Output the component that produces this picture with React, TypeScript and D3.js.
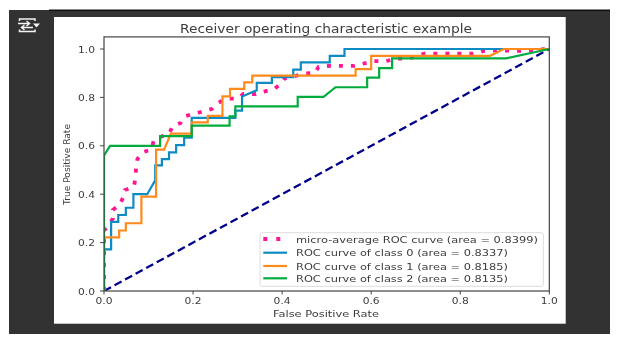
import React, { useRef, useEffect } from 'react';
import * as d3 from 'd3';

const tickValues = [0, 0.2, 0.4, 0.6, 0.8, 1];
const chartTitle = 'Receiver operating characteristic example';

const microFpr = [0, 0, 0.01, 0.02, 0.02, 0.036, 0.043, 0.047, 0.067, 0.071, 0.072, 0.075, 0.087, 0.107, 0.112, 0.13, 0.146, 0.154, 0.172, 0.182, 0.202, 0.223, 0.243, 0.255, 0.273, 0.3, 0.313, 0.341, 0.36, 0.382, 0.396, 0.406, 0.427, 0.448, 0.473, 0.482, 0.507, 0.561, 0.581, 0.606, 0.633, 0.659, 0.68, 0.702, 0.72, 0.829, 0.854, 0.882, 0.935, 0.994, 1];
const microTpr = [0, 0.25, 0.27, 0.3, 0.335, 0.358, 0.387, 0.417, 0.431, 0.47, 0.511, 0.545, 0.573, 0.585, 0.625, 0.639, 0.65, 0.68, 0.694, 0.722, 0.733, 0.742, 0.753, 0.775, 0.795, 0.795, 0.814, 0.814, 0.824, 0.835, 0.854, 0.879, 0.887, 0.898, 0.901, 0.926, 0.93, 0.93, 0.939, 0.95, 0.95, 0.96, 0.96, 0.97, 0.981, 0.981, 0.992, 0.994, 0.992, 1, 1];

const class0Fpr = [0, 0, 0.016, 0.016, 0.032, 0.032, 0.049, 0.049, 0.066, 0.066, 0.097, 0.115, 0.115, 0.13, 0.13, 0.146, 0.146, 0.162, 0.162, 0.18, 0.18, 0.197, 0.197, 0.295, 0.295, 0.31, 0.31, 0.343, 0.343, 0.377, 0.377, 0.425, 0.425, 0.442, 0.442, 0.507, 0.507, 0.54, 0.54, 1];
const class0Tpr = [0, 0.172, 0.172, 0.286, 0.286, 0.314, 0.314, 0.344, 0.344, 0.4, 0.4, 0.457, 0.519, 0.519, 0.545, 0.545, 0.573, 0.573, 0.603, 0.603, 0.634, 0.634, 0.715, 0.715, 0.745, 0.745, 0.804, 0.829, 0.86, 0.86, 0.884, 0.884, 0.915, 0.915, 0.945, 0.945, 0.972, 0.972, 1, 1];

const class1Fpr = [0, 0, 0.034, 0.034, 0.049, 0.049, 0.084, 0.084, 0.117, 0.117, 0.135, 0.15, 0.197, 0.197, 0.233, 0.233, 0.266, 0.266, 0.283, 0.283, 0.315, 0.315, 0.333, 0.333, 0.565, 0.565, 0.6, 0.6, 0.867, 0.898, 1];
const class1Tpr = [0, 0.222, 0.222, 0.25, 0.25, 0.28, 0.28, 0.39, 0.39, 0.584, 0.584, 0.65, 0.65, 0.697, 0.697, 0.724, 0.724, 0.804, 0.804, 0.835, 0.835, 0.862, 0.862, 0.89, 0.89, 0.917, 0.917, 0.972, 0.972, 1, 1];

const class2Fpr = [0, 0, 0.0135, 0.126, 0.126, 0.197, 0.197, 0.282, 0.282, 0.295, 0.295, 0.435, 0.435, 0.493, 0.52, 0.591, 0.591, 0.618, 0.618, 0.647, 0.647, 0.903, 1];
const class2Tpr = [0, 0.56, 0.6, 0.6, 0.64, 0.64, 0.683, 0.683, 0.722, 0.722, 0.763, 0.763, 0.802, 0.802, 0.842, 0.842, 0.882, 0.882, 0.921, 0.921, 0.961, 0.961, 1];

const legendLabels = [
  'micro-average ROC curve (area = 0.8399)',
  'ROC curve of class 0 (area = 0.8337)',
  'ROC curve of class 1 (area = 0.8185)',
  'ROC curve of class 2 (area = 0.8135)',
];
const lineColors = ['#ff1493', '#0e8cc4', '#ff8a1c', '#00ac3c'];
const textColor = '#3c3c3c';

const App = () => {
  const svgRef = useRef<SVGSVGElement>(null);

  useEffect(() => {
    const svg = d3.select(svgRef.current);
    svg.selectAll('*').remove();

    const x = d3.scaleLinear().domain([0, 1]).range([104, 549.3]);
    const y = d3.scaleLinear().domain([0, 1]).range([291, 49]);

    const plotTop = y(1.05);
    const plotBottom = y(0);

    const defs = svg.append('defs');
    defs.append('filter').attr('id', 'soft')
      .append('feGaussianBlur').attr('stdDeviation', 0.4);
    defs.append('clipPath').attr('id', 'plot-area')
      .append('rect')
      .attr('x', x(0)).attr('y', plotTop)
      .attr('width', x(1) - x(0)).attr('height', plotBottom - plotTop);

    const g = svg.append('g').attr('filter', 'url(#soft)');

    // screenshot frame
    g.append('rect').attr('x', 9).attr('y', 10).attr('width', 601).attr('height', 324).attr('fill', '#333333');
    g.append('rect').attr('x', 49).attr('y', 9.5).attr('width', 561).attr('height', 1.5).attr('fill', '#111');
    g.append('rect').attr('x', 54).attr('y', 17).attr('width', 511.7).attr('height', 306.7).attr('fill', '#ffffff');

    // output icon
    const icon = g.append('g').attr('fill', 'none').attr('stroke', '#f4f4f4').attr('stroke-width', 1.5);
    icon.append('path').attr('d', 'M19.5 21 V19 H35 V21 M19.5 29.5 V31.5 H35 V29.5');
    icon.append('path').attr('d', 'M18 23.5 H29 M26.5 21 L29.5 23.5 L26.5 26 M33 27.5 H22 M24.5 25 L21.5 27.5 L24.5 30');
    g.append('path').attr('d', 'M33 23.5 H40 L36.5 27.5 Z').attr('fill', '#f4f4f4');

    const text = (px: number, py: number, label: string, width: number, size: number, anchor = 'start') =>
      g.append('text')
        .attr('x', px).attr('y', py)
        .attr('font-family', 'DejaVu Sans')
        .attr('font-size', size)
        .attr('fill', textColor)
        .attr('text-anchor', anchor)
        .attr('dominant-baseline', 'central')
        .attr('textLength', width)
        .attr('lengthAdjust', 'spacingAndGlyphs')
        .text(label);

    const lineGen = d3.line<[number, number]>().x(d => x(d[0])).y(d => y(d[1]));
    const pairs = (xs: number[], ys: number[]) => xs.map((v, i) => [v, ys[i]] as [number, number]);

    const curves = g.append('g').attr('clip-path', 'url(#plot-area)');

    // chance line
    curves.append('path')
      .attr('d', lineGen([[0, 0], [1, 1]]))
      .attr('fill', 'none').attr('stroke', '#00008b').attr('stroke-width', 2.3)
      .attr('stroke-dasharray', '8 4');

    // micro average
    curves.append('path')
      .attr('d', lineGen(pairs(microFpr, microTpr)))
      .attr('fill', 'none').attr('stroke', lineColors[0]).attr('stroke-width', 3.8)
      .attr('stroke-dasharray', '4 8');

    [[class0Fpr, class0Tpr], [class1Fpr, class1Tpr], [class2Fpr, class2Tpr]].forEach(([fx, ty], i) => {
      curves.append('path')
        .attr('d', lineGen(pairs(fx, ty)))
        .attr('fill', 'none').attr('stroke', lineColors[i + 1]).attr('stroke-width', 2.2);
    });

    // axes box
    g.append('rect')
      .attr('x', x(0)).attr('y', plotTop)
      .attr('width', x(1) - x(0)).attr('height', plotBottom - plotTop)
      .attr('fill', 'none').attr('stroke', '#444').attr('stroke-width', 1.2);

    tickValues.forEach(t => {
      g.append('line').attr('x1', x(t)).attr('x2', x(t)).attr('y1', plotBottom).attr('y2', plotBottom + 3.5).attr('stroke', '#444').attr('stroke-width', 1);
      g.append('line').attr('x1', x(0) - 4).attr('x2', x(0)).attr('y1', y(t)).attr('y2', y(t)).attr('stroke', '#444').attr('stroke-width', 1);
      text(x(t), 300.5, t.toFixed(1), 17, 9.5, 'middle');
      text(95, y(t), t.toFixed(1), 17, 9.5, 'end');
    });

    text(326, 28.5, chartTitle, 292, 11.5, 'middle');
    text(326, 313, 'False Positive Rate', 106, 9.5, 'middle');
    text(0, 0, 'True Positive Rate', 81, 9.5, 'middle')
      .attr('transform', 'translate(66.5,164.5) rotate(-90)');

    // legend
    g.append('rect')
      .attr('x', 260).attr('y', 232.7).attr('width', 283.3).attr('height', 53.6).attr('rx', 2)
      .attr('fill', '#ffffff').attr('fill-opacity', 0.85).attr('stroke', '#dddddd').attr('stroke-width', 1);

    const legendRows = [239, 252.7, 266, 278.3];
    const legendWidths = [242, 212, 212, 212];
    legendLabels.forEach((label, i) => {
      const row = g.append('line')
        .attr('x1', 263.3).attr('x2', 287).attr('y1', legendRows[i]).attr('y2', legendRows[i])
        .attr('stroke', lineColors[i]).attr('stroke-width', i === 0 ? 3.8 : 2.2);
      if (i === 0) row.attr('stroke-dasharray', '4 9');
      text(296, legendRows[i], label, legendWidths[i], 9.5);
    });
  }, []);

  return (
    <div style={{ position: 'fixed', left: 0, top: 0 }}>
      <svg ref={svgRef} width={617} height={342} style={{ display: 'block', background: '#ffffff' }} />
    </div>
  );
};

export default App;
